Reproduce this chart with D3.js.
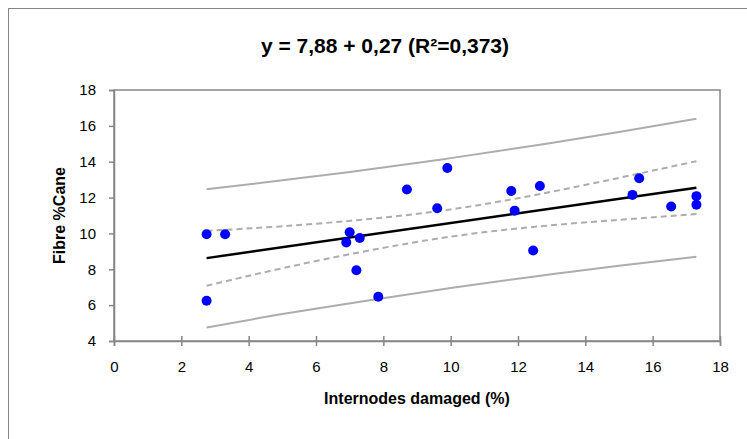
<!DOCTYPE html>
<html>
<head>
<meta charset="utf-8">
<script src="https://cdn.jsdelivr.net/npm/d3@7"></script>
<style>
  body { margin: 0; background: #fff; }
  text { font-family: "Liberation Sans", Arial, sans-serif; }
</style>
</head>
<body>
<svg id="chart"></svg>
<script>
// observed points
const damaged = [2.75, 3.3, 2.75, 7.0, 6.9, 7.3, 7.2, 7.85, 8.7, 9.9, 9.6, 11.8, 11.9, 12.65, 12.45, 15.4, 15.6, 16.55, 17.3, 17.3]
const fibre = [9.95, 9.95, 6.25, 10.07, 9.5, 9.75, 7.95, 6.47, 12.45, 13.65, 11.4, 12.37, 11.27, 12.65, 9.05, 12.15, 13.08, 11.5, 12.08, 11.6]

// regression from title
const intercept = 7.88
const slope = 0.27

// bands
const bandX = [2.75, 5, 7.5, 10, 12.5, 15, 17.3]
const confUpper = [10.14, 10.4, 10.79, 11.34, 12.14, 13.1, 14.03]
const confLower = [7.08, 8.06, 9.02, 9.82, 10.37, 10.76, 11.08]
const predUpper = [12.47, 12.96, 13.55, 14.2, 14.9, 15.66, 16.4]
const predLower = [4.75, 5.5, 6.25, 6.96, 7.6, 8.2, 8.7]

const xTicks = [0, 2, 4, 6, 8, 10, 12, 14, 16, 18]
const yTicks = [4, 6, 8, 10, 12, 14, 16, 18]

const width = 747, height = 439
const margin = { left: 114, right: 27, top: 90, bottom: 98 }

const svg = d3.select("#chart").attr("width", width).attr("height", height)

// outer chart frame
svg.append("rect")
  .attr("x", 8.5).attr("y", 8.5)
  .attr("width", 800).attr("height", 500)
  .attr("fill", "#fff").attr("stroke", "#868686").attr("stroke-width", 1)

const x = d3.scaleLinear().domain([0, 18]).range([margin.left, width - margin.right])
const y = d3.scaleLinear().domain([4, 18]).range([height - margin.bottom, margin.top])

const axisColor = "#868686"

// plot area border
svg.append("rect")
  .attr("x", x(0)).attr("y", y(18))
  .attr("width", x(18) - x(0)).attr("height", y(4) - y(18))
  .attr("fill", "none").attr("stroke", axisColor).attr("stroke-width", 1.5)

const xAxis = svg.append("g")
  .attr("transform", `translate(0,${y(4)})`)
  .call(d3.axisBottom(x).tickValues(xTicks).tickSize(5).tickPadding(15))
xAxis.selectAll("line").attr("y1", -5)
const yAxis = svg.append("g")
  .attr("transform", `translate(${x(0)},0)`)
  .call(d3.axisLeft(y).tickValues(yTicks).tickSize(5).tickPadding(13))

;[xAxis, yAxis].forEach(g => {
  g.select(".domain").attr("stroke", axisColor).attr("stroke-width", 1.5)
  g.selectAll(".tick line").attr("stroke", axisColor).attr("stroke-width", 1.5)
  g.selectAll(".tick text").attr("fill", "#000").style("font-size", "15px")
})

const line = d3.line().x(d => x(d[0])).y(d => y(d[1])).curve(d3.curveNatural)

const bands = [
  { vals: predUpper, dash: null },
  { vals: predLower, dash: null },
  { vals: confUpper, dash: "6,4" },
  { vals: confLower, dash: "6,4" },
]
bands.forEach(b => {
  svg.append("path")
    .attr("d", line(bandX.map((v, i) => [v, b.vals[i]])))
    .attr("fill", "none")
    .attr("stroke", "#adadad")
    .attr("stroke-width", 2)
    .attr("stroke-dasharray", b.dash)
})

const xMin = d3.min(damaged), xMax = d3.max(damaged)
svg.append("path")
  .attr("d", d3.line().x(d => x(d)).y(d => y(intercept + slope * d))([xMin, xMax]))
  .attr("fill", "none").attr("stroke", "#000").attr("stroke-width", 2.5)

svg.append("g").selectAll("circle")
  .data(damaged)
  .join("circle")
  .attr("cx", d => x(d))
  .attr("cy", (d, i) => y(fibre[i]))
  .attr("r", 5)
  .attr("fill", "#0000ff")

svg.append("text")
  .attr("x", 385).attr("y", 53)
  .attr("text-anchor", "middle")
  .style("font-size", "21px").style("font-weight", "bold")
  .text("y = 7,88 + 0,27 (R²=0,373)")

svg.append("text")
  .attr("x", (x(0) + x(18)) / 2).attr("y", 404)
  .attr("text-anchor", "middle")
  .style("font-size", "16px").style("font-weight", "bold")
  .text("Internodes damaged (%)")

svg.append("text")
  .attr("transform", `translate(65,${(y(4) + y(18)) / 2}) rotate(-90)`)
  .attr("text-anchor", "middle")
  .style("font-size", "16px").style("font-weight", "bold")
  .text("Fibre %Cane")
</script>
</body>
</html>
